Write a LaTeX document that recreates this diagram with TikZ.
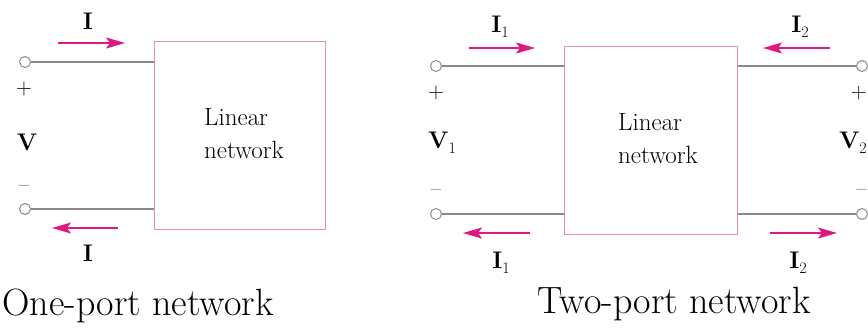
\documentclass[tikz,border=0pt]{standalone}
\usepackage{fontspec}
\usepackage{xcolor}
\usetikzlibrary{arrows.meta,positioning,calc}
\definecolor{portBox}{HTML}{E98BC0}
\definecolor{portCur}{HTML}{E0187F}
\definecolor{portWire}{HTML}{8A8A8A}
\newcommand{\cursub}[2]{\textbf{#1}\raisebox{-0.45ex}{\fontsize{16}{16}\selectfont #2}}

\begin{document}
\begin{tikzpicture}[
  x=1pt,y=-1pt,
  net/.style={draw=portBox,line width=1pt,minimum width=171pt,
              minimum height=188pt,inner sep=0pt},
  nettxt/.style={align=left,inner sep=0pt,font=\fontsize{25}{33}\selectfont},
  wire/.style={portWire,line width=1.2pt},
  term/.style={circle,draw=portWire,fill=white,line width=1pt,
               minimum size=11pt,inner sep=0pt},
  cur/.style={-{Stealth[length=19pt,width=11pt,inset=4pt]},portCur,line width=1.8pt},
  lbl/.style={font=\fontsize{24}{24}\selectfont,inner sep=0pt},
  sgn/.style={font=\fontsize{22}{22}\selectfont,inner sep=0pt},
  captxt/.style={font=\fontsize{38}{40}\selectfont,inner sep=0pt}
]
\useasboundingbox (0,0) rectangle (868,327);
\clip (0,0) rectangle (868,327);

% One-port network
\node[net] (onebox) at (240,135) {};
\node[nettxt] (onetxt) at (244,134) {Linear\\network};
\node[term] (oa) at (25,62)  {};
\node[term] (ob) at (25,209) {};
\draw[wire] (oa) -- (oa -| onebox.west);
\draw[wire] (ob) -- (ob -| onebox.west);

\coordinate (oi1s) at (58,43);   \coordinate (oi1e) at (125,43);
\coordinate (oi2s) at (118,228); \coordinate (oi2e) at (52,228);
\draw[cur] (oi1s) -- (oi1e);
\draw[cur] (oi2s) -- (oi2e);

\node[lbl] (oitop) at (88,21)  {\textbf{I}};
\node[lbl] (oibot) at (88,253) {\textbf{I}};
\node[sgn] (oplus)  at (24,89)  {+};
\node[lbl] (ov)     at (27,142) {\textbf{V}};
\node[sgn] (ominus) at (24,188) {--};
\node[captxt] (onecap) at (138,306) {One-port network};

% Two-port network
\node[net,minimum width=173pt] (twobox) at (650.5,140) {};
\node[nettxt] (twotxt) at (658,139) {Linear\\network};
\node[term] (ta) at (436,66)  {};
\node[term] (tb) at (436,214) {};
\node[term] (tc) at (862,66)  {};
\node[term] (td) at (862,214) {};
\draw[wire] (ta) -- (ta -| twobox.west);
\draw[wire] (tb) -- (tb -| twobox.west);
\draw[wire] (tc) -- (tc -| twobox.east);
\draw[wire] (td) -- (td -| twobox.east);

\coordinate (ti1s) at (469,48);  \coordinate (ti1e) at (535,48);
\coordinate (ti2s) at (830,48);  \coordinate (ti2e) at (763,48);
\coordinate (ti3s) at (530,233); \coordinate (ti3e) at (463,233);
\coordinate (ti4s) at (770,233); \coordinate (ti4e) at (837,233);
\draw[cur] (ti1s) -- (ti1e);
\draw[cur] (ti2s) -- (ti2e);
\draw[cur] (ti3s) -- (ti3e);
\draw[cur] (ti4s) -- (ti4e);

\node[lbl] (ti1top) at (500,27)  {\cursub{I}{1}};
\node[lbl] (ti2top) at (800,27)  {\cursub{I}{2}};
\node[lbl] (ti1bot) at (501,263) {\cursub{I}{1}};
\node[lbl] (ti2bot) at (798,263) {\cursub{I}{2}};
\node[sgn] (tplusl)  at (436,93)  {+};
\node[lbl] (tv1)     at (442,143) {\cursub{V}{1}};
\node[sgn] (tminusl) at (436,192) {--};
\node[sgn,anchor=east] (tplusr)  at (867,93)  {+};
\node[lbl,anchor=east] (tv2) at (867,143) {\cursub{V}{2}};
\node[sgn,anchor=east] (tminusr) at (867,192) {--};
\node[captxt] (twocap) at (674,304) {Two-port network};
\end{tikzpicture}
\end{document}
